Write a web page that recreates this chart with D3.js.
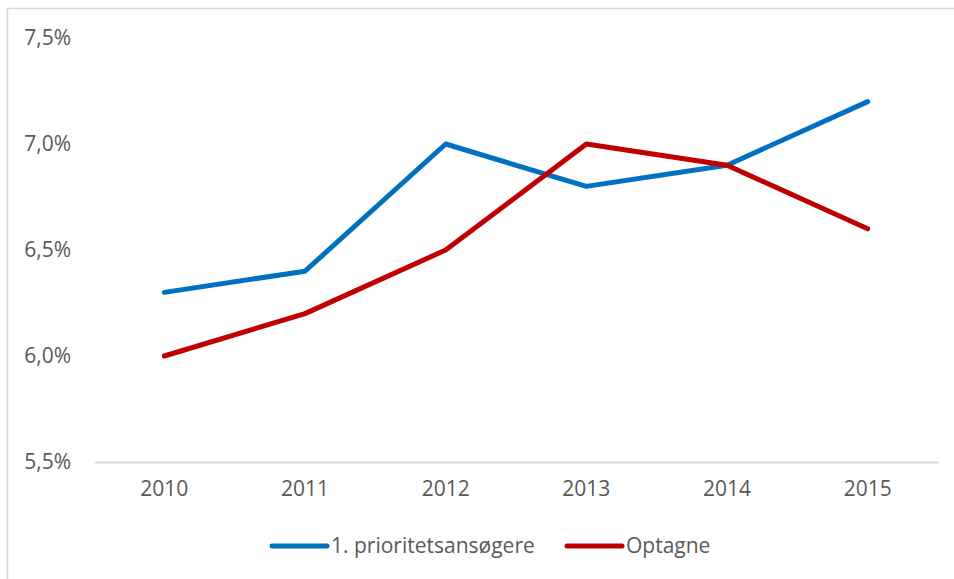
<!DOCTYPE html>
<html>
<head>
<meta charset="utf-8">
<script src="https://cdn.jsdelivr.net/npm/d3@7"></script>
<style>
  body { margin: 0; background: #fff; }
  svg text { font-family: "Open Sans", "Noto Sans", sans-serif; fill: #595959; }
</style>
</head>
<body>
<svg width="954" height="579"></svg>
<script>
// data
var years = ["2010", "2011", "2012", "2013", "2014", "2015"];
var prioritet = [6.3, 6.4, 7.0, 6.8, 6.9, 7.2];
var optagne = [6.0, 6.2, 6.5, 7.0, 6.9, 6.6];
var yTicks = [5.5, 6.0, 6.5, 7.0, 7.5];
var seriesNames = ["1. prioritetsansøgere", "Optagne"];
var seriesColors = ["#0070C0", "#C00000"];

var svg = d3.select("svg");
var padding = { t: 38, r: 16, b: 117, l: 94 };
var width = 954, height = 579;
var chartWidth = width - padding.l - padding.r;   // 844
var chartHeight = height - padding.t - padding.b; // 424

// chart area border (runs off the right and bottom)
svg.append("rect")
    .attr("x", 7.5).attr("y", 8.5)
    .attr("width", 960).attr("height", 600)
    .attr("fill", "none")
    .attr("stroke", "#d9d9d9")
    .attr("stroke-width", 1.5);

var xScale = d3.scaleBand().domain(years).range([padding.l, padding.l + chartWidth]);
var yScale = d3.scaleLinear().domain([5.5, 7.5]).range([padding.t + chartHeight, padding.t]);

// y labels
var fmt = function (v) { return d3.format(".1f")(v).replace(".", ",") + "%"; };
svg.append("g")
    .selectAll("text")
    .data(yTicks)
    .enter()
    .append("text")
    .attr("x", 71)
    .attr("y", d => yScale(d))
    .attr("dy", "0.35em")
    .attr("text-anchor", "end")
    .style("font-size", "21px")
    .text(fmt);

// x axis
var xAxis = d3.axisBottom(xScale).tickSize(0).tickPadding(19);
var gx = svg.append("g")
    .attr("transform", "translate(0," + yScale(5.5) + ")")
    .call(xAxis);
gx.select(".domain").attr("stroke", "#d9d9d9").attr("stroke-width", 2);
gx.selectAll("text")
    .style("font-size", "21px")
    .style("font-family", "'Open Sans', sans-serif")
    .attr("fill", "#595959");

// lines
var line = d3.line()
    .x((d, i) => xScale(years[i]) + xScale.bandwidth() / 2)
    .y(d => yScale(d));

[prioritet, optagne].forEach(function (s, i) {
    svg.append("path")
        .datum(s)
        .attr("d", line)
        .attr("fill", "none")
        .attr("stroke", seriesColors[i])
        .attr("stroke-width", 5)
        .attr("stroke-linecap", "round")
        .attr("stroke-linejoin", "round");
});

// legend
var legendX = [272, 567];
var legend = svg.append("g");
seriesNames.forEach(function (name, i) {
    legend.append("line")
        .attr("x1", legendX[i]).attr("x2", legendX[i] + 55)
        .attr("y1", 546).attr("y2", 546)
        .attr("stroke", seriesColors[i])
        .attr("stroke-width", 5)
        .attr("stroke-linecap", "round");
    legend.append("text")
        .attr("x", legendX[i] + 59)
        .attr("y", 546)
        .attr("dy", "0.35em")
        .style("font-size", "21px")
        .text(name);
});
</script>
</body>
</html>
